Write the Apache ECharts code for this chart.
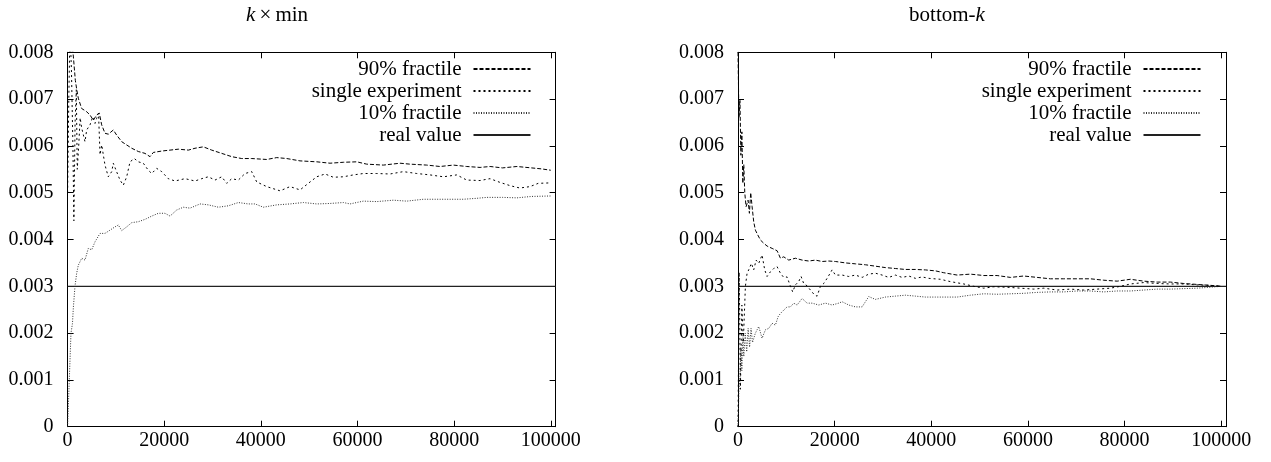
<!DOCTYPE html>
<html>
<head>
<meta charset="utf-8">
<script src="https://cdn.jsdelivr.net/npm/echarts@6/dist/echarts.min.js"></script>
<style>
html,body{margin:0;padding:0;background:#fff;}
#chart{width:1271px;height:462px;}
</style>
</head>
<body>
<div id="chart"></div>
<script>
// ---------------- DATA ----------------
const seriesNames = ['90% fractile', 'single experiment', '10% fractile', 'real value'];
const xTickLabels = ['0', '20000', '40000', '60000', '80000', '100000'];
const yTickLabels = ['0', '0.001', '0.002', '0.003', '0.004', '0.005', '0.006', '0.007', '0.008'];

// k x min panel
const kminP90 = [[0,0.0100],[400,0.0088],[800,0.0083],[1200,0.0079],[1600,0.0074],[1900,0.0072],[2215,0.00702],[2900,0.0068],[3950,0.00673],[4640,0.00666],[5320,0.00655],[6020,0.00666],[6560,0.0067],[7050,0.00645],[7740,0.00627],[8430,0.00625],[9460,0.00634],[10160,0.00623],[11200,0.00609],[12230,0.00602],[13270,0.00595],[14640,0.00588],[16020,0.00584],[17060,0.00577],[17740,0.00586],[19480,0.00589],[21200,0.00591],[22920,0.00593],[24990,0.00591],[26370,0.00595],[28090,0.00598],[29830,0.00591],[31900,0.00584],[33970,0.00577],[36040,0.00573],[38110,0.00573],[41210,0.00571],[43280,0.00575],[45350,0.00573],[48100,0.00568],[51560,0.00566],[54320,0.00563],[57070,0.00565],[59840,0.00566],[61910,0.00561],[65350,0.00559],[68800,0.00563],[70880,0.00561],[74330,0.00559],[77080,0.00556],[79840,0.00559],[82610,0.00556],[85370,0.00554],[87440,0.00556],[90000,0.00553],[93000,0.00556],[96000,0.00553],[98000,0.00551],[100000,0.00548]];
const kminSingle = [[0,0.0050],[250,0.0070],[500,0.0085],[800,0.0076],[1100,0.0060],[1300,0.0044],[1550,0.0065],[1800,0.0072],[2000,0.0055],[2300,0.0060],[2600,0.0066],[2920,0.00638],[3600,0.00609],[3950,0.00634],[4640,0.00645],[5200,0.00662],[5670,0.00648],[6020,0.00659],[6400,0.0067],[6710,0.00581],[7060,0.00602],[7740,0.00559],[8420,0.00534],[9130,0.00545],[9460,0.00563],[10020,0.00548],[10850,0.00527],[11530,0.00516],[12230,0.00534],[12920,0.00566],[13810,0.00573],[14630,0.00566],[15670,0.00563],[16700,0.00548],[17410,0.00541],[18440,0.00552],[19480,0.00545],[20840,0.0053],[22230,0.00525],[24300,0.0053],[26370,0.00525],[27760,0.0053],[29120,0.00534],[30510,0.00527],[31900,0.00534],[32930,0.0052],[33970,0.0053],[35340,0.00527],[36720,0.00541],[38110,0.00545],[39140,0.00523],[41210,0.00513],[43970,0.00504],[46040,0.00513],[48110,0.00506],[49820,0.0052],[51560,0.00534],[53280,0.0054],[55000,0.00533],[57070,0.00534],[59140,0.00538],[61210,0.00541],[63980,0.00541],[66730,0.0054],[69490,0.00545],[72260,0.00541],[75010,0.00538],[77770,0.00534],[80540,0.00538],[82610,0.00527],[85360,0.00526],[87430,0.0053],[89500,0.00522],[91600,0.00515],[93600,0.0051],[95700,0.00513],[97400,0.0052],[100000,0.00521]];
const kminP10 = [[0,0],[350,0.0010],[700,0.0020],[1000,0.0022],[1200,0.00256],[1530,0.0030],[1880,0.00328],[2215,0.00345],[2920,0.0036],[3600,0.00356],[4280,0.00381],[4990,0.00378],[5670,0.00395],[6710,0.00413],[7740,0.00413],[8780,0.0042],[9810,0.00427],[10500,0.00431],[11200,0.00419],[12230,0.00427],[13270,0.00436],[14640,0.00438],[16020,0.00443],[17410,0.0045],[18780,0.00456],[20160,0.00456],[21200,0.0045],[22580,0.00463],[23960,0.00469],[25340,0.00467],[27410,0.00476],[29130,0.00474],[31200,0.00469],[33270,0.00472],[35340,0.00479],[37400,0.00476],[38790,0.00476],[40520,0.00469],[43280,0.00474],[46040,0.00476],[48800,0.00479],[51560,0.00476],[54320,0.00477],[57070,0.00479],[58450,0.00476],[61210,0.00482],[63980,0.00481],[67420,0.00484],[70190,0.00482],[73630,0.00486],[76400,0.00486],[79150,0.00486],[81910,0.00486],[84680,0.00488],[86750,0.0049],[90000,0.0049],[93000,0.00489],[96000,0.00492],[100000,0.00493]];
const kminReal = [[0,0.003],[101000,0.003]];

// bottom-k panel
const botkP90 = [[0,0.0080],[200,0.0066],[400,0.0070],[600,0.0058],[800,0.0063],[1000,0.0052],[1200,0.0056],[1400,0.0050],[1670,0.0047],[2090,0.00484],[2360,0.00456],[2630,0.0050],[2920,0.0047],[3250,0.00438],[3600,0.0042],[4080,0.0041],[4640,0.00399],[5320,0.00392],[6020,0.00386],[7060,0.00381],[8090,0.00376],[8780,0.0036],[9460,0.00363],[10500,0.00356],[11880,0.0036],[13270,0.00356],[14640,0.00354],[16020,0.00356],[17410,0.00353],[18780,0.00354],[20160,0.00353],[22230,0.0035],[24300,0.00348],[26370,0.00346],[28440,0.00343],[30510,0.0034],[32580,0.00338],[34650,0.00336],[36720,0.00336],[38790,0.00335],[40860,0.00333],[42580,0.00329],[45350,0.00324],[48100,0.00326],[50860,0.00323],[53630,0.00323],[56390,0.00319],[59140,0.00322],[61910,0.00319],[64670,0.00316],[67420,0.00316],[70190,0.00316],[72950,0.00316],[75700,0.00313],[78470,0.00311],[81230,0.00315],[83980,0.00311],[86750,0.00309],[89500,0.00309],[92260,0.00306],[95020,0.00304],[97780,0.00302],[100000,0.003]];
const botkSingle = [[0,0.0],[250,0.0033],[500,0.0008],[800,0.0026],[1100,0.0018],[1530,0.003],[1880,0.00328],[2210,0.00335],[2770,0.00349],[3250,0.00335],[3750,0.00356],[4290,0.00349],[4980,0.00367],[5530,0.00335],[6020,0.00321],[6710,0.00331],[7390,0.00338],[8090,0.00342],[8780,0.00328],[9460,0.00319],[10160,0.0032],[10850,0.003],[11320,0.00288],[11880,0.00303],[12560,0.0031],[13060,0.00321],[13600,0.00306],[14300,0.00301],[14990,0.00292],[15880,0.00281],[16370,0.00279],[17060,0.003],[17740,0.00306],[18440,0.00317],[19480,0.00335],[20160,0.00324],[21550,0.00324],[22920,0.00321],[24300,0.00324],[25690,0.00319],[27060,0.00326],[28440,0.00328],[29830,0.00324],[31200,0.00319],[32580,0.00324],[33970,0.00319],[35340,0.00322],[36720,0.00317],[38110,0.0032],[39480,0.00317],[41890,0.00315],[43960,0.0031],[46720,0.00305],[48790,0.003],[50860,0.00296],[52930,0.00299],[55700,0.00298],[58460,0.00296],[61210,0.00294],[63280,0.00296],[66050,0.00292],[68800,0.00294],[71560,0.00292],[74330,0.00294],[77080,0.00296],[79150,0.003],[81230,0.00305],[83980,0.00308],[86750,0.00306],[89500,0.00305],[92260,0.00305],[95020,0.00303],[97780,0.00302],[100000,0.003]];
const botkP10 = [[0,0],[200,0.0008],[400,0.0010],[600,0.0017],[800,0.0012],[1000,0.0019],[1200,0.0015],[1500,0.0020],[1800,0.0016],[2100,0.0021],[2400,0.0017],[2700,0.0021],[3000,0.0018],[3600,0.002],[4290,0.00214],[4980,0.00189],[5670,0.00207],[6360,0.0021],[7060,0.00221],[7740,0.00217],[8300,0.00235],[8780,0.00242],[9460,0.00249],[10160,0.00256],[10850,0.00256],[11530,0.00264],[12230,0.0026],[13270,0.00274],[14300,0.00264],[15340,0.00264],[16710,0.0026],[18090,0.00264],[19480,0.0026],[20840,0.00264],[21550,0.00267],[22920,0.0026],[24300,0.00256],[25690,0.00256],[26370,0.00267],[27060,0.00278],[28440,0.00272],[30510,0.00277],[32580,0.00279],[34650,0.00281],[36720,0.00279],[38790,0.00277],[40860,0.00277],[42580,0.00277],[45350,0.00277],[48100,0.00281],[50860,0.00284],[53630,0.00283],[56390,0.00284],[59140,0.00285],[61910,0.00287],[64670,0.00288],[67420,0.00288],[70190,0.0029],[72950,0.0029],[75700,0.00288],[78470,0.0029],[81230,0.0029],[83980,0.00292],[86750,0.00294],[89500,0.00294],[92260,0.00295],[95020,0.00296],[97780,0.00298],[100000,0.003]];
const botkReal = [[0,0.003],[101000,0.003]];

// ---------------- LAYOUT / STYLE ----------------
const FONT = '"Liberation Serif", "Times New Roman", serif';
const W = 1271;
const gridW = 488, gridH = 374.4, gridTop = 52.3;
const gridLefts = [67.6, 738];
const titleCenters = [277, 947];
const legendIconRight = [531.5, 1201.5];

const lineStyles = [
  {color: '#000', width: 1, type: [4, 2]},
  {color: '#000', width: 1, type: [2, 3]},
  {color: '#333', width: 1, type: [1, 1.5]},
  {color: '#222', width: 1.2, type: 'solid'}
];

function measure(str, size, italic) {
  const c = document.createElement('canvas').getContext('2d');
  c.font = (italic ? 'italic ' : '') + size + 'px ' + FONT;
  return c.measureText(str).width;
}

const titleSize = 21;
const titleDefs = [
  {text: '{i|k}\u2009×\u2009min', w: measure('k', titleSize, true) + measure('\u2009×\u2009min', titleSize, false)},
  {text: 'bottom-{i|k}', w: measure('bottom-', titleSize, false) + measure('k', titleSize, true)}
];

const xAxes = [], yAxes = [];
gridLefts.forEach((l, g) => {
  [['bottom', true], ['top', false]].forEach(([pos, lab]) => {
    xAxes.push({
      type: 'value', gridIndex: g, position: pos, min: 0, max: 101000, interval: 20000,
      axisLine: {show: true, onZero: false, lineStyle: {color: '#000', width: 1}},
      axisTick: {show: true, inside: true, length: 6, lineStyle: {color: '#000', width: 1}},
      splitLine: {show: false},
      axisLabel: {
        show: lab, margin: 4, color: '#000', fontFamily: FONT, fontSize: 20,
        showMaxLabel: false,
        formatter: v => (v % 20000 === 0 ? xTickLabels[v / 20000] : '')
      }
    });
  });
  [['left', true], ['right', false]].forEach(([pos, lab]) => {
    yAxes.push({
      type: 'value', gridIndex: g, position: pos, min: 0, max: 0.008, interval: 0.001,
      axisLine: {show: true, onZero: false, lineStyle: {color: '#000', width: 1}},
      axisTick: {show: true, inside: true, length: 6, lineStyle: {color: '#000', width: 1}},
      splitLine: {show: false},
      axisLabel: {
        show: lab, margin: 14, color: '#000', fontFamily: FONT, fontSize: 20,
        formatter: v => yTickLabels[Math.round(v * 1000)]
      }
    });
  });
});

const panelData = [
  [kminP90, kminSingle, kminP10, kminReal],
  [botkP90, botkSingle, botkP10, botkReal]
];
const series = [];
panelData.forEach((arr, g) => {
  arr.forEach((d, i) => {
    series.push({
      type: 'line', name: seriesNames[i], data: d,
      xAxisIndex: g * 2, yAxisIndex: g * 2,
      symbol: 'none', showSymbol: false, animation: false,
      lineStyle: lineStyles[i], emphasis: {disabled: true}, z: 10 - i
    });
  });
});

const option = {
  backgroundColor: '#fff',
  animation: false,
  title: titleDefs.map((t, g) => ({
    text: t.text, left: titleCenters[g] - t.w / 2, top: 5, padding: 0,
    textStyle: {
      fontFamily: FONT, fontSize: titleSize, fontWeight: 'normal', color: '#000',
      rich: {i: {fontFamily: FONT, fontSize: titleSize, fontStyle: 'italic', color: '#000'}}
    }
  })),
  grid: gridLefts.map(l => ({left: l, top: gridTop, width: gridW, height: gridH, outerBoundsMode: 'none', containLabel: false})),
  xAxis: xAxes,
  yAxis: yAxes,
  legend: legendIconRight.map(r => ({
    orient: 'vertical', right: W - r, top: 58.5, align: 'right',
    itemWidth: 57, itemHeight: 10, itemGap: 1, padding: 0,
    selectedMode: false,
    data: seriesNames,
    itemStyle: {opacity: 0},
    textStyle: {fontFamily: FONT, fontSize: 21, color: '#000', lineHeight: 21, padding: [0, 7, 0, 0]}
  })),
  tooltip: {show: false},
  series: series
};

const chart = echarts.init(document.getElementById('chart'), null, {renderer: 'canvas'});
chart.setOption(option);
</script>
</body>
</html>
